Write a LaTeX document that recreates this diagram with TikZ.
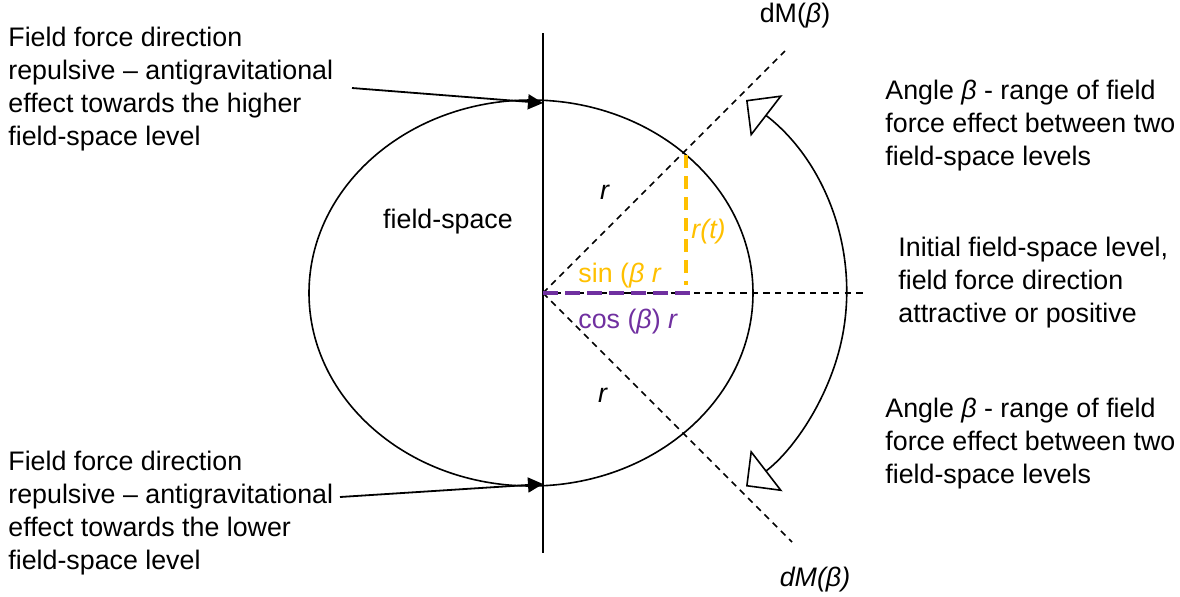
\documentclass[tikz,border=0pt]{standalone}
\usepackage{fontspec}
\setmainfont{Liberation Sans}
\usepackage{xcolor}
\usetikzlibrary{arrows.meta, positioning}
\definecolor{fsgold}{HTML}{FFC000}
\definecolor{fspurple}{HTML}{7030A0}
\tikzstyle{note}    = [align=left, anchor=west, inner sep=0pt, font=\fontsize{13.4}{16.5}\selectfont]
\tikzstyle{tag}     = [inner sep=0pt, font=\fontsize{13.4}{15}\selectfont]
\tikzstyle{guide}   = [dash pattern=on 3.2pt off 2.6pt, line width=0.75pt]
\tikzstyle{pointer} = [line width=0.9pt, -{Triangle[length=7.5pt, width=7.5pt]}]
\tikzstyle{swing}   = [line width=0.8pt, {Triangle[open, length=13pt, width=26pt]}-{Triangle[open, length=13pt, width=26pt]}]

\begin{document}
\begin{tikzpicture}[x=0.5pt, y=-0.5pt]
    \useasboundingbox (0,0) rectangle (1180,596);

    \coordinate (O)      at (543,293);
    \coordinate (axtop)  at (543,33);
    \coordinate (axbot)  at (543,553);
    \coordinate (hitup)  at (543,103);
    \coordinate (hitdn)  at (543,484);
    \coordinate (dmup)   at (785,51);
    \coordinate (dmdn)   at (792,542);
    \coordinate (horiz)  at (865,293);
    \coordinate (rtop)   at (686,155);
    \coordinate (rbot)   at (686,285);
    \coordinate (cosend) at (693,293);
    \coordinate (swingA) at (746,100);

    \draw[line width=0.8pt] (531,293) ellipse [x radius=222, y radius=193];
    \draw[line width=0.8pt] (axtop) -- (axbot);
    \draw[guide] (O) -- (dmup);
    \draw[guide] (O) -- (dmdn);
    \draw[guide] (O) -- (horiz);
    \draw[fsgold, line width=2pt, dash pattern=on 6.5pt off 4pt] (rtop) -- (rbot);
    \draw[fspurple, line width=2pt, dash pattern=on 7.5pt off 3.5pt] (O) -- (cosend);
    \draw[swing] (swingA) arc [start angle=-48, end angle=48, x radius=304, y radius=260];

    \node (upnote)  [note] at (8,89)   {Field force direction\\repulsive -- antigravitational\\effect towards the higher\\field-space level};
    \node (dnnote)  [note] at (8,513)  {Field force direction\\repulsive -- antigravitational\\effect towards the lower\\field-space level};
    \node (angup)   [note] at (885,126) {Angle \textit{β} - range of field\\force effect between two\\field-space levels};
    \node (angdn)   [note] at (885,444) {Angle \textit{β} - range of field\\force effect between two\\field-space levels};
    \node (initial) [note] at (898,283) {Initial field-space level,\\field force direction\\attractive or positive};

    \node (space) [tag] at (448,222) {field-space};
    \node (rup)   [tag] at (605,192) {\textit{r}};
    \node (rdn)   [tag] at (603,395) {\textit{r}};
    \node (rt)    [tag, anchor=west, text=fsgold] at (691,232) {\textit{r(t)}};
    \node (sinb)  [tag, anchor=west, text=fsgold] at (578,276) {sin (\textit{β r}};
    \node (cosb)  [tag, anchor=west, text=fspurple] at (578,322) {cos (\textit{β}) \textit{r}};
    \node (dmtop) [tag] at (795,16)  {dM(\textit{β})};
    \node (dmbot) [tag] at (815,580) {\textit{dM(β)}};

    \coordinate (upfrom) at (352,88);
    \coordinate (dnfrom) at (340,497);
    \draw[pointer] (upfrom) -- (hitup);
    \draw[pointer] (dnfrom) -- (hitdn);
\end{tikzpicture}
\end{document}
